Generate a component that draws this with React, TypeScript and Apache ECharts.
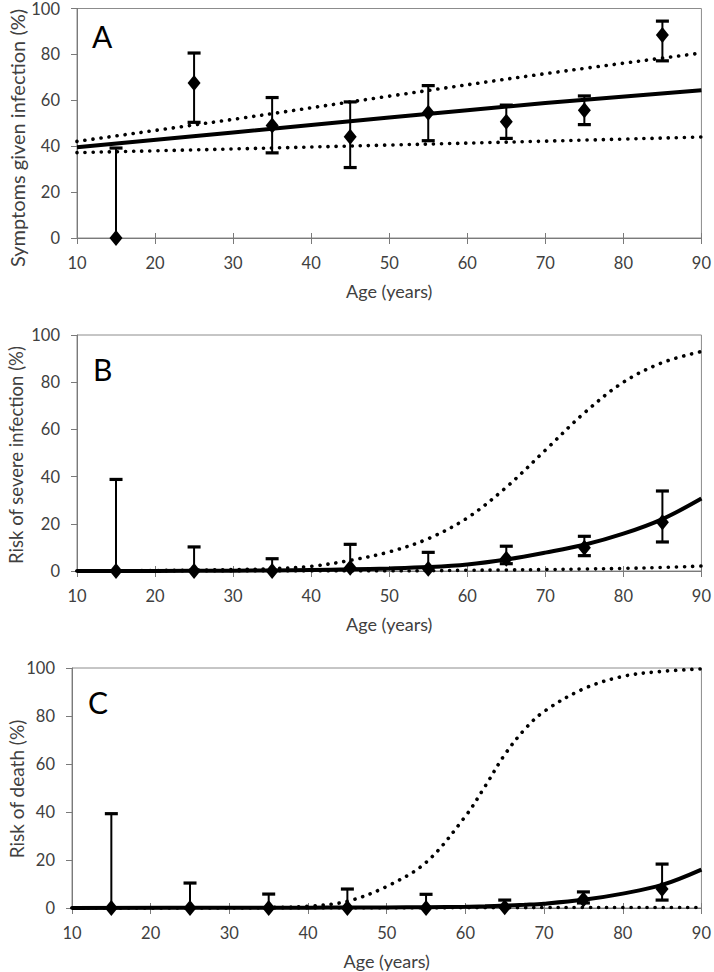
import React, { useEffect, useRef } from "react";
import * as echarts from "echarts";

// ---- data ----
const xTicks = [10, 20, 30, 40, 50, 60, 70, 80, 90];
const groupAges = [15, 25, 35, 45, 55, 65, 75, 85];

// Panel A: symptoms given infection (%)
const aMean = [0, 67.5, 49, 44.1, 54.6, 50.7, 55.7, 88.4];
const aLow = [0, 50.4, 37.1, 30.7, 42.4, 43.4, 49.4, 77.2];
const aHigh = [39.2, 80.6, 61.2, 59.3, 66.4, 57.9, 61.9, 94.5];
const aCurveAges = [10, 30, 50, 70, 90];
const aFit = [39.5, 46.0, 52.5, 58.8, 64.4];
const aFitHigh = [42.1, 51.7, 61.8, 71.6, 80.6];
const aFitLow = [37.2, 38.8, 40.5, 42.2, 44.0];

// Panel B: risk of severe infection (%)
const bMean = [0, 0, 0, 1.4, 1.0, 5.2, 9.9, 20.7];
const bLow = [0, 0, 0, 0, 0, 3.1, 6.5, 12.3];
const bHigh = [38.8, 10.2, 5.2, 11.3, 7.9, 10.5, 14.7, 33.9];
const bCurveAges = [10, 20, 30, 35, 40, 45, 50, 55, 60, 65, 70, 75, 80, 85, 90];
const bFit = [0, 0.05, 0.15, 0.25, 0.45, 0.7, 1.1, 1.7, 2.8, 4.9, 7.8, 11.1, 15.8, 22.0, 30.7];
const bFitHigh = [0, 0.2, 0.6, 1.0, 2.0, 4.5, 8.1, 13.7, 22.5, 35.5, 51.2, 67.0, 80.0, 88.3, 93.0];
const bFitLow = [0, 0, 0, 0, 0, 0, 0, 0.1, 0.3, 0.45, 0.6, 0.85, 1.1, 1.5, 2.1];

// Panel C: risk of death (%)
const cMean = [0, 0, 0, 0, 0, 0.3, 3.5, 7.9];
const cLow = [0, 0, 0, 0, 0, 0, 2.1, 3.3];
const cHigh = [39.3, 10.4, 5.8, 7.9, 5.7, 3.3, 6.7, 18.3];
const cCurveAges = [10, 30, 35, 40, 45, 50, 55, 60, 62.5, 65, 67.5, 70, 75, 80, 85, 90];
const cFit = [0, 0.1, 0.1, 0.15, 0.2, 0.25, 0.35, 0.5, 0.7, 1.0, 1.35, 1.8, 3.4, 6.0, 9.6, 16.0];
const cFitHigh = [0, 0.05, 0.2, 0.7, 2.8, 9.0, 19.0, 38.2, 50.7, 63.9, 74.3, 81.9, 91.3, 96.5, 98.6, 99.6];
const cFitLow = [0, 0, 0, 0, 0, 0, 0, 0.1, 0.1, 0.15, 0.15, 0.2, 0.2, 0.2, 0.2, 0.2];

const panels = [
  { letter: "A", yName: "Symptoms given infection (%)", mean: aMean, low: aLow, high: aHigh, ages: aCurveAges, fit: aFit, fitHigh: aFitHigh, fitLow: aFitLow },
  { letter: "B", yName: "Risk of severe infection (%)", mean: bMean, low: bLow, high: bHigh, ages: bCurveAges, fit: bFit, fitHigh: bFitHigh, fitLow: bFitLow },
  { letter: "C", yName: "Risk of death (%)", mean: cMean, low: cLow, high: cHigh, ages: cCurveAges, fit: cFit, fitHigh: cFitHigh, fitLow: cFitLow },
];

const FONT = "Lato";
const TXT = "#404040";
const AXIS = "#7a7a7a";

const grids = [
  { left: 77, right: 10, top: 6, height: 232 },
  { left: 77, right: 10, top: 335, height: 236 },
  { left: 72, right: 10, top: 668, height: 240 },
];
const yNamePos = [
  { x: 17, y: 138, size: 20 },
  { x: 16, y: 455, size: 18.5 },
  { x: 16, y: 789, size: 19 },
];
const letterPos = [
  { x: 92, y: 21 },
  { x: 93, y: 354 },
  { x: 88, y: 687 },
];

export default function App() {
  const ref = useRef<HTMLDivElement>(null);
  useEffect(() => {
    document.body.style.margin = "0";
    const chart = echarts.init(ref.current!, null, { renderer: "svg" });

    const xAxis: any[] = [];
    const xTickAxes: any[] = [];
    const yAxis: any[] = [];
    const series: any[] = [];
    const graphic: any[] = [];

    panels.forEach((p, i) => {
      xAxis.push({
        gridIndex: i,
        type: "value",
        min: xTicks[0],
        max: xTicks[xTicks.length - 1],
        interval: 10,
        name: "Age (years)",
        nameLocation: "middle",
        nameGap: 44,
        nameTextStyle: { fontFamily: FONT, fontSize: 18, color: TXT },
        axisLine: { show: true, onZero: false, lineStyle: { color: AXIS, width: 1 } },
        axisTick: { show: true, inside: false, length: 6, lineStyle: { color: AXIS } },
        axisLabel: { fontFamily: FONT, fontSize: 16.5, color: TXT, margin: 16 },
        splitLine: { show: false },
      });
      // duplicate axis only for the inner half of the crossing tick marks
      xTickAxes.push({
        gridIndex: i,
        type: "value",
        position: "bottom",
        min: xTicks[0],
        max: xTicks[xTicks.length - 1],
        interval: 10,
        axisLine: { show: false, onZero: false },
        axisTick: { show: true, inside: true, length: 5, lineStyle: { color: AXIS } },
        axisLabel: { show: false },
        splitLine: { show: false },
      });
      yAxis.push({
        gridIndex: i,
        type: "value",
        min: 0,
        max: 100,
        interval: 20,
        axisLine: { show: true, lineStyle: { color: AXIS, width: 1 } },
        axisTick: { show: true, inside: false, length: 6, lineStyle: { color: AXIS } },
        axisLabel: { fontFamily: FONT, fontSize: 16.5, color: TXT, margin: 17 },
        splitLine: { show: false },
      });

      const dotted = { color: "#000", width: 3.6, type: [0.1, 8], cap: "round" };
      series.push({
        type: "line",
        xAxisIndex: i,
        yAxisIndex: i,
        data: p.ages.map((a, k) => [a, p.fitHigh[k]]),
        smooth: 0.35,
        showSymbol: false,
        lineStyle: dotted,
        z: 2,
      });
      series.push({
        type: "line",
        xAxisIndex: i,
        yAxisIndex: i,
        data: p.ages.map((a, k) => [a, p.fitLow[k]]),
        smooth: 0.35,
        showSymbol: false,
        lineStyle: dotted,
        z: 2,
      });
      series.push({
        type: "line",
        xAxisIndex: i,
        yAxisIndex: i,
        data: p.ages.map((a, k) => [a, p.fit[k]]),
        smooth: 0.35,
        showSymbol: false,
        lineStyle: { color: "#000", width: 4 },
        z: 3,
      });
      series.push({
        type: "custom",
        xAxisIndex: i,
        yAxisIndex: i,
        data: groupAges.map((a, k) => [a, p.low[k], p.high[k]]),
        encode: { x: 0, y: [1, 2] },
        z: 4,
        renderItem: (params: any, api: any) => {
          const x = api.value(0);
          const lo = api.value(1);
          const hi = api.value(2);
          const pLo = api.coord([x, lo]);
          const pHi = api.coord([x, hi]);
          const cw = 6.5;
          const children: any[] = [
            { type: "line", shape: { x1: pLo[0], y1: pLo[1], x2: pHi[0], y2: pHi[1] }, style: { stroke: "#000", lineWidth: 2 } },
            { type: "line", shape: { x1: pHi[0] - cw, y1: pHi[1], x2: pHi[0] + cw, y2: pHi[1] }, style: { stroke: "#000", lineWidth: 3.2 } },
          ];
          if (lo > 0) {
            children.push({ type: "line", shape: { x1: pLo[0] - cw, y1: pLo[1], x2: pLo[0] + cw, y2: pLo[1] }, style: { stroke: "#000", lineWidth: 3.2 } });
          }
          return { type: "group", children };
        },
      });
      series.push({
        type: "scatter",
        xAxisIndex: i,
        yAxisIndex: i,
        data: groupAges.map((a, k) => [a, p.mean[k]]),
        symbol: "diamond",
        symbolSize: [13, 16],
        itemStyle: { color: "#000", opacity: 1 },
        z: 5,
      });

      graphic.push({
        type: "text",
        x: letterPos[i].x,
        y: letterPos[i].y,
        style: { text: p.letter, fontFamily: FONT, fontSize: 30, fill: "#000" },
      });
      graphic.push({
        type: "text",
        x: yNamePos[i].x,
        y: yNamePos[i].y,
        rotation: Math.PI / 2,
        style: {
          text: p.yName,
          fontFamily: FONT,
          fontSize: yNamePos[i].size,
          fill: TXT,
          align: "center",
          verticalAlign: "middle",
        },
      });
    });

    chart.setOption({
      animation: false,
      grid: grids.map((g) => ({ ...g, show: true, borderColor: "#8c8c8c", borderWidth: 1, backgroundColor: "transparent" })),
      xAxis: [...xAxis, ...xTickAxes],
      yAxis,
      series,
      graphic,
    });
    return () => chart.dispose();
  }, []);
  return <div ref={ref} style={{ width: 714, height: 972 }} />;
}
